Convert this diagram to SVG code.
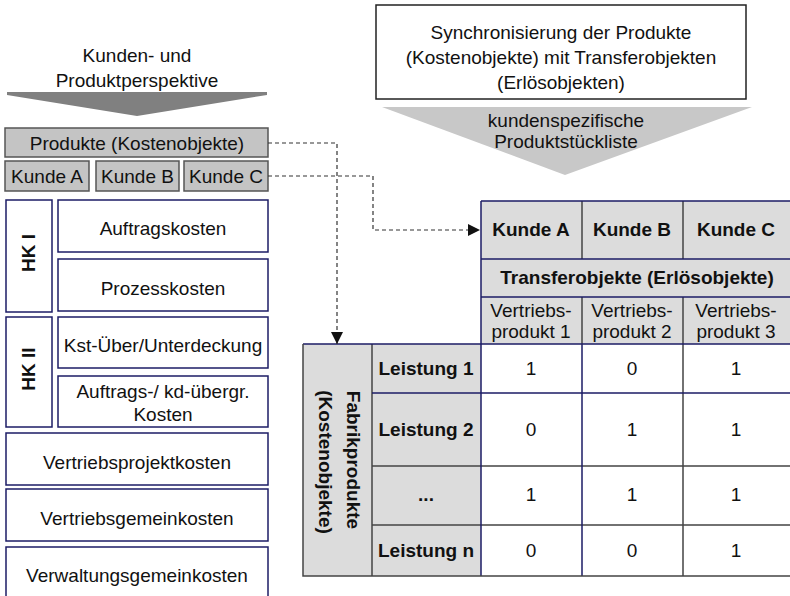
<svg xmlns="http://www.w3.org/2000/svg" width="790" height="596" viewBox="0 0 790 596">
<style>
text{font-family:"Liberation Sans",Arial,sans-serif;font-size:19px;fill:#111;text-anchor:middle}
.b{font-weight:bold}
.box{fill:#fff;stroke:#1c1c66;stroke-width:1.5}
.gbox{fill:#c4c4c4;stroke:#555;stroke-width:1.5}
.hdr{fill:#dcdcdc}
.ln{stroke:#1c1c66;stroke-width:1.5;fill:none}
.lg{stroke:#444;stroke-width:1.5;fill:none}
.conn{stroke:#333;stroke-width:1.2;stroke-dasharray:4 3;fill:none}
</style>
<defs>
<marker id="ah" markerUnits="userSpaceOnUse" markerWidth="12" markerHeight="12" viewBox="0 0 10 10" refX="10" refY="5" orient="auto">
<path d="M0,0 L10,5 L0,10 Z" fill="#111"/>
</marker>
</defs>

<g id="perspective">
<text x="137" y="62">Kunden- und</text>
<text x="137" y="87">Produktperspektive</text>
<path d="M7,92 L267,92 L267,95 L137,116 L7,95 Z" fill="#808080"/>
</g>

<g id="produkte"><rect class="gbox" x="5" y="128" width="263" height="29"/><text x="137" y="150">Produkte (Kostenobjekte)</text></g>
<g id="kundeA"><rect class="gbox" x="5" y="161" width="84" height="30"/><text x="47" y="183">Kunde A</text></g>
<g id="kundeB"><rect class="gbox" x="96" y="161" width="83" height="30"/><text x="137.5" y="183">Kunde B</text></g>
<g id="kundeC"><rect class="gbox" x="184" y="161" width="84" height="30"/><text x="226" y="183">Kunde C</text></g>

<g id="hk1"><rect class="box" x="6" y="200" width="46" height="112"/><text class="b" transform="translate(35,253) rotate(-90)">HK I</text></g>
<g id="auftragskosten"><rect class="box" x="58" y="200" width="210" height="52"/><text x="163" y="235">Auftragskosten</text></g>
<g id="prozesskosten"><rect class="box" x="58" y="259" width="210" height="52"/><text x="163" y="295">Prozesskosten</text></g>
<g id="hk2"><rect class="box" x="6" y="317" width="46" height="110"/><text class="b" transform="translate(35,369) rotate(-90)">HK II</text></g>
<g id="kst"><rect class="box" x="58" y="317" width="210" height="51"/><text x="163" y="352">Kst-Über/Unterdeckung</text></g>
<g id="auftragsuebergr"><rect class="box" x="58" y="376" width="210" height="51"/><text x="163" y="398">Auftrags-/ kd-übergr.</text><text x="163" y="421">Kosten</text></g>
<g id="vertriebsprojektkosten"><rect class="box" x="6" y="433" width="262" height="52"/><text x="137" y="469">Vertriebsprojektkosten</text></g>
<g id="vertriebsgemeinkosten"><rect class="box" x="6" y="489" width="262" height="52"/><text x="137" y="525">Vertriebsgemeinkosten</text></g>
<g id="verwaltungsgemeinkosten"><rect class="box" x="6" y="547" width="262" height="60"/><text x="137" y="582">Verwaltungsgemeinkosten</text></g>

<g id="synchronisierung">
<rect x="376" y="5" width="370" height="94" fill="#fff" stroke="#222" stroke-width="1.5"/>
<text x="561" y="39">Synchronisierung der Produkte</text>
<text x="561" y="64">(Kostenobjekte) mit Transferobjekten</text>
<text x="561" y="89">(Erlösobjekten)</text>
</g>
<g id="stueckliste">
<path d="M382,107 L752,107 L565,175 Z" fill="#c8c8c8"/>
<text x="566" y="127">kundenspezifische</text>
<text x="566" y="148">Produktstückliste</text>
</g>

<g id="transfer-table">
<rect class="hdr" x="481" y="201" width="310" height="144"/>
<rect x="481" y="344" width="310" height="232" fill="#fff"/>
<path class="lg" d="M582,201 V259 M683,201 V259 M582,297 V345 M683,297 V345"/>
<path class="ln" d="M481,201 H791 M481,259 H791 M481,297 H791"/>
<text class="b" x="531" y="236">Kunde A</text>
<text class="b" x="632" y="236">Kunde B</text>
<text class="b" x="736" y="236">Kunde C</text>
<text class="b" x="637" y="284">Transferobjekte (Erlösobjekte)</text>
<text x="531" y="317">Vertriebs-</text><text x="531" y="338">produkt 1</text>
<text x="632" y="317">Vertriebs-</text><text x="632" y="338">produkt 2</text>
<text x="736" y="317">Vertriebs-</text><text x="736" y="338">produkt 3</text>
</g>

<g id="fabrik-table">
<rect class="hdr" x="303" y="344" width="178" height="232"/>
<path class="lg" d="M372,344 V576 M372,466 H791 M372,525 H791 M683,345 V576"/>
<path class="ln" d="M303,344 H791 M372,393 H791 M481,201 V576 M582,345 V576"/>
<path class="lg" d="M303,344 V576 H791"/>
<text class="b" transform="translate(347,460) rotate(90)">Fabrikprodukte</text>
<text class="b" transform="translate(319,462) rotate(90)">(Kostenobjekte)</text>
<text class="b" x="426" y="375">Leistung 1</text>
<text class="b" x="426" y="436">Leistung 2</text>
<text class="b" x="426" y="501">...</text>
<text class="b" x="426" y="557">Leistung n</text>
<text x="531" y="375">1</text><text x="632" y="375">0</text><text x="736" y="375">1</text>
<text x="531" y="436">0</text><text x="632" y="436">1</text><text x="736" y="436">1</text>
<text x="531" y="501">1</text><text x="632" y="501">1</text><text x="736" y="501">1</text>
<text x="531" y="557">0</text><text x="632" y="557">0</text><text x="736" y="557">1</text>
</g>

<g id="connectors">
<path class="conn" d="M268,143 H337 V344" marker-end="url(#ah)"/>
<path class="conn" d="M268,176 H373 V230 H480" marker-end="url(#ah)"/>
</g>
</svg>
